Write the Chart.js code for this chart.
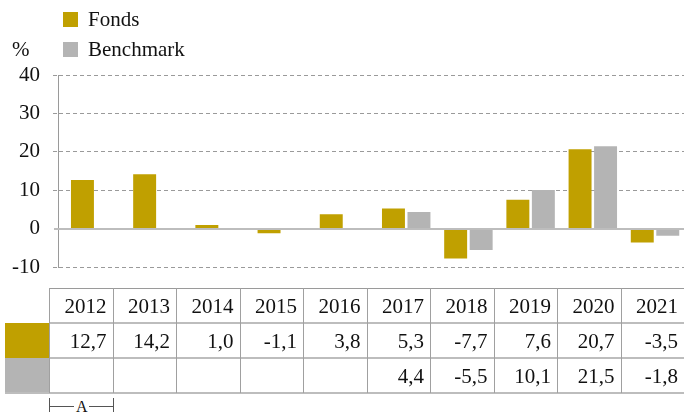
<!DOCTYPE html>
<html>
<head>
<meta charset="utf-8">
<script src="https://cdn.jsdelivr.net/npm/chart.js@4.4.1/dist/chart.umd.min.js"></script>
<style>
html, body { margin: 0; padding: 0; background: #fff; }
#wrap { position: relative; width: 684px; height: 412px; overflow: hidden;
        font-family: "Liberation Serif", "Times New Roman", serif; color: #111; }
#wrap canvas { position: absolute; left: 0; top: 0; }
.sw { position: absolute; width: 15px; height: 15px; }
.txt { position: absolute; font-size: 21px; line-height: 21px; white-space: nowrap; }
.cell { position: absolute; height: 35px; line-height: 35px; font-size: 21px; text-align: right;
        box-sizing: border-box; padding-right: 6px; white-space: nowrap; }
.ln { position: absolute; }
</style>
</head>
<body>
<div id="wrap">
  <canvas id="chart" width="684" height="293"></canvas>
  <div class="sw" style="left:63px;top:12px;background:#C0A000"></div>
  <div class="txt" style="left:88px;top:9px">Fonds</div>
  <div class="sw" style="left:63px;top:42px;background:#B4B4B4"></div>
  <div class="txt" style="left:88px;top:39px">Benchmark</div>
  <div class="txt" style="left:12px;top:39px">%</div>
  <div id="table"></div>
</div>
<script>
// values
var years = [2012, 2013, 2014, 2015, 2016, 2017, 2018, 2019, 2020, 2021];
var fonds = [12.7, 14.2, 1.0, -1.1, 3.8, 5.3, -7.7, 7.6, 20.7, -3.5];
var benchmark = [null, null, null, null, null, 4.4, -5.5, 10.1, 21.5, -1.8];
var yTicks = [-10, 0, 10, 20, 30, 40];

var gold = '#C0A000';
var grey = '#B4B4B4';

// solid zero line over the bars
var zeroLine = {
    id: 'zeroLine',
    afterDatasetsDraw: function(chart) {
        var ctx = chart.ctx;
        var y = Math.round(chart.scales.y.getPixelForValue(0));
        ctx.save();
        ctx.strokeStyle = '#BDBDBD';
        ctx.lineWidth = 2;
        ctx.beginPath();
        ctx.moveTo(chart.chartArea.left - 4, y);
        ctx.lineTo(chart.chartArea.right, y);
        ctx.stroke();
        ctx.restore();
    }
};

Chart.defaults.font.family = '"Liberation Serif", "Times New Roman", serif';
Chart.defaults.font.size = 21;
Chart.defaults.color = '#111';

new Chart(document.getElementById('chart'), {
    type: 'bar',
    data: {
        labels: years,
        datasets: [
            { label: 'Fonds', data: fonds, backgroundColor: gold },
            { label: 'Benchmark', data: benchmark, backgroundColor: grey }
        ]
    },
    options: {
        responsive: false,
        animation: false,
        devicePixelRatio: 1,
        // bottom room comes from the half height of the "-10" label
        layout: { padding: { top: 75, bottom: 0, left: 0, right: 0 } },
        datasets: { bar: { categoryPercentage: 0.82, barPercentage: 0.9 } },
        plugins: { legend: { display: false }, tooltip: { enabled: false } },
        scales: {
            x: {
                type: 'linear',
                display: false,
                offset: false,
                min: 2011.402,
                max: 2021.466,
                afterBuildTicks: function(s) {
                    s.ticks = years.map(function(v) { return { value: v }; });
                }
            },
            y: {
                min: -10,
                max: 40,
                afterBuildTicks: function(s) {
                    s.ticks = yTicks.map(function(v) { return { value: v }; });
                },
                afterFit: function(s) { s.width = 58; },
                ticks: {
                    padding: 13,
                    color: '#111',
                    font: { size: 21 },
                    callback: function(v) { return String(v); }
                },
                grid: {
                    color: function(c) { return c.tick && c.tick.value === 0 ? 'rgba(0,0,0,0)' : '#9A9A9A'; },
                    tickLength: 5,
                    tickBorderDash: [4, 3],
                    lineWidth: 1
                },
                border: { display: true, color: '#9A9A9A', width: 1, dash: [4, 3] }
            }
        }
    },
    plugins: [zeroLine]
});

// table under the chart
var tbl = document.getElementById('table');
var x0 = 49, colW = 63.5, rowY = [288, 323, 358, 393], rowH = 35;
function fmt(v) { return v === null ? '' : v.toFixed(1).replace('.', ','); }
function add(cls, css, text) {
    var d = document.createElement('div');
    d.className = cls;
    d.style.cssText = css;
    if (text !== undefined) d.textContent = text;
    tbl.appendChild(d);
}
add('ln', 'left:5px;top:323px;width:44px;height:35px;background:' + gold);
add('ln', 'left:5px;top:358px;width:44px;height:35px;background:' + grey);
add('ln', 'left:49px;top:288px;width:635px;height:1px;background:#9A9A9A');
add('ln', 'left:49px;top:322px;width:635px;height:2px;background:#BDBDBD');
add('ln', 'left:49px;top:357px;width:635px;height:2px;background:#BDBDBD');
add('ln', 'left:5px;top:392px;width:679px;height:2px;background:#BDBDBD');
for (var i = 0; i < years.length; i++) {
    var left = x0 + i * colW;
    add('ln', 'left:' + Math.round(left) + 'px;top:288px;width:1px;height:105px;background:#A0A0A0');
    var w = 'left:' + left + 'px;width:' + colW + 'px;';
    add('cell', w + 'top:' + (rowY[0] + 1) + 'px', String(years[i]));
    add('cell', w + 'top:' + (rowY[1] + 1) + 'px', fmt(fonds[i]));
    add('cell', w + 'top:' + (rowY[2] + 1) + 'px', fmt(benchmark[i]));
}

// "A" bracket under the first column
add('ln', 'left:49px;top:398px;width:1px;height:14px;background:#555');
add('ln', 'left:113px;top:398px;width:1px;height:14px;background:#555');
add('ln', 'left:49px;top:406px;width:25px;height:1px;background:#555');
add('ln', 'left:89px;top:406px;width:25px;height:1px;background:#555');
add('txt', 'left:76px;top:399px;font-size:16px;line-height:16px', 'A');
</script>
</body>
</html>
